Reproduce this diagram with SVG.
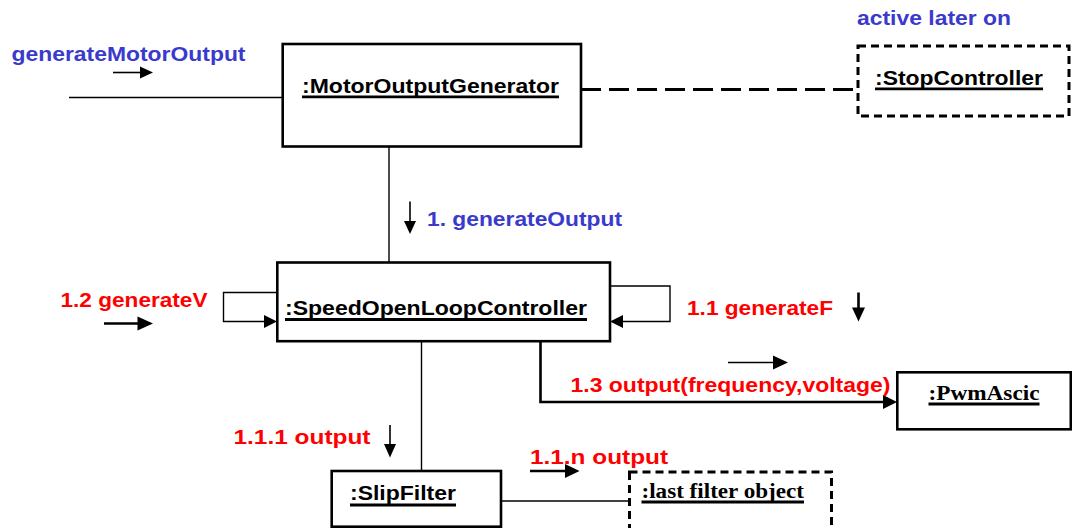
<svg xmlns="http://www.w3.org/2000/svg" width="1072" height="528" viewBox="0 0 1072 528">
  <style>
    .box { fill: #ffffff; stroke: #000000; stroke-width: 2.6; }
    .dbox { fill: #ffffff; stroke: #000000; stroke-width: 3; stroke-dasharray: 8 5; }
    .name { font-family: "Liberation Sans", Arial, sans-serif; font-weight: bold; font-size: 20.5px; fill: #000000; }
    .sname { font-family: "Liberation Serif", "Times New Roman", serif; font-weight: bold; font-size: 20.5px; fill: #000000; }
    .ul { stroke: #000000; stroke-width: 2.8; }
    .blue { font-family: "Liberation Sans", Arial, sans-serif; font-weight: bold; font-size: 20.5px; fill: #3a3acc; }
    .red { font-family: "Liberation Sans", Arial, sans-serif; font-weight: bold; font-size: 20.5px; fill: #ff0000; }
    .link { fill: none; stroke: #000000; stroke-width: 1.4; }
    .link2 { fill: none; stroke: #000000; stroke-width: 2.6; }
    .msg { fill: none; stroke: #000000; stroke-width: 1.6; }
    .msg2 { fill: none; stroke: #000000; stroke-width: 2.6; }
    .head { fill: #000000; stroke: none; }
  </style>

  <!-- connectors -->
  <g id="connectors">
    <line class="link" x1="69" y1="97.5" x2="283" y2="97.5"/>
    <line x1="581" y1="89.5" x2="857" y2="89.5" stroke="#000" stroke-width="3" stroke-dasharray="20 8"/>
    <line class="link" x1="389" y1="147" x2="389" y2="262"/>
    <!-- self call on the left -->
    <polyline class="link" points="277,292.5 223.5,292.5 223.5,321.5 266,321.5"/>
    <polygon class="head" points="277,321.5 264,315 264,328"/>
    <!-- self call on the right -->
    <polyline class="link" points="610,286 670,286 670,321.5 622,321.5"/>
    <polygon class="head" points="610,321.5 623,315 623,328"/>
    <line class="link" x1="421.5" y1="341" x2="421.5" y2="471"/>
    <polyline class="link2" points="540.5,341 540.5,402 884,402"/>
    <polygon class="head" points="897,402 883,395 883,409"/>
    <line class="link" x1="501" y1="501" x2="629" y2="501"/>

    <!-- message direction arrows -->
    <line class="msg" x1="113" y1="72.5" x2="142" y2="72.5"/>
    <polygon class="head" points="153,72.5 140,66.5 140,78.5"/>
    <line class="msg" x1="410" y1="201.5" x2="410" y2="223"/>
    <polygon class="head" points="410,234 404,221 416,221"/>
    <line class="msg2" x1="104" y1="323.5" x2="140" y2="323.5"/>
    <polygon class="head" points="153,323.5 137.5,316.5 137.5,330.5"/>
    <line class="msg2" x1="858.5" y1="292.5" x2="858.5" y2="310"/>
    <polygon class="head" points="858.5,321.5 852,307.5 865,307.5"/>
    <line class="msg" x1="728" y1="362.5" x2="775" y2="362.5"/>
    <polygon class="head" points="788,362.5 773,355.5 773,369.5"/>
    <line class="msg" x1="390" y1="425" x2="390" y2="446"/>
    <polygon class="head" points="390,457.5 384,444 396,444"/>
    <line class="msg2" x1="530" y1="471" x2="567" y2="471"/>
    <polygon class="head" points="579.5,471 565,464 565,478"/>
  </g>

  <!-- labels -->
  <g id="labels">
    <text class="blue" x="11.5" y="61" textLength="234" lengthAdjust="spacingAndGlyphs">generateMotorOutput</text>
    <text class="blue" x="857" y="24.5" textLength="154" lengthAdjust="spacingAndGlyphs">active later on</text>
    <text class="blue" x="427" y="226" textLength="195" lengthAdjust="spacingAndGlyphs">1. generateOutput</text>
    <text class="red" x="60.5" y="306.5" textLength="147" lengthAdjust="spacingAndGlyphs">1.2 generateV</text>
    <text class="red" x="687" y="315" textLength="146" lengthAdjust="spacingAndGlyphs">1.1 generateF</text>
    <text class="red" x="570.5" y="391.5" textLength="320" lengthAdjust="spacingAndGlyphs">1.3 output(frequency,voltage)</text>
    <text class="red" x="233.5" y="443.5" textLength="137" lengthAdjust="spacingAndGlyphs">1.1.1 output</text>
    <text class="red" x="530" y="463.5" textLength="138" lengthAdjust="spacingAndGlyphs">1.1.n output</text>
  </g>

  <!-- objects -->
  <g id="motorOutputGenerator">
    <rect class="box" x="282.7" y="44" width="298.3" height="102.5"/>
    <text class="name" x="302" y="92.5" textLength="257" lengthAdjust="spacingAndGlyphs">:MotorOutputGenerator</text>
    <line class="ul" x1="302" y1="96.8" x2="559" y2="96.8"/>
  </g>

  <g id="stopController">
    <rect class="dbox" x="858" y="46" width="211" height="70"/>
    <text class="name" x="875" y="85" textLength="168" lengthAdjust="spacingAndGlyphs">:StopController</text>
    <line class="ul" x1="875" y1="88.8" x2="1043" y2="88.8"/>
  </g>

  <g id="speedOpenLoopController">
    <rect class="box" x="277.3" y="262.5" width="332.7" height="78.7"/>
    <text class="name" x="285" y="315" textLength="302" lengthAdjust="spacingAndGlyphs">:SpeedOpenLoopController</text>
    <line class="ul" x1="285" y1="319.5" x2="587" y2="319.5"/>
  </g>

  <g id="pwmAscic">
    <rect class="box" x="897.3" y="372.3" width="173.5" height="57"/>
    <text class="sname" x="928.5" y="400" textLength="111" lengthAdjust="spacingAndGlyphs">:PwmAscic</text>
    <line class="ul" x1="928.5" y1="404" x2="1039.5" y2="404"/>
  </g>

  <g id="slipFilter">
    <rect class="box" x="331.7" y="471" width="169.3" height="55.7"/>
    <text class="name" x="350" y="500" textLength="106" lengthAdjust="spacingAndGlyphs">:SlipFilter</text>
    <line class="ul" x1="350" y1="505" x2="456" y2="505"/>
  </g>

  <g id="lastFilterObject">
    <rect class="dbox" x="629.5" y="472" width="202" height="62"/>
    <text class="sname" x="641.5" y="498.3" textLength="162.5" lengthAdjust="spacingAndGlyphs">:last filter object</text>
    <line class="ul" x1="641.5" y1="502" x2="804" y2="502"/>
  </g>
</svg>
